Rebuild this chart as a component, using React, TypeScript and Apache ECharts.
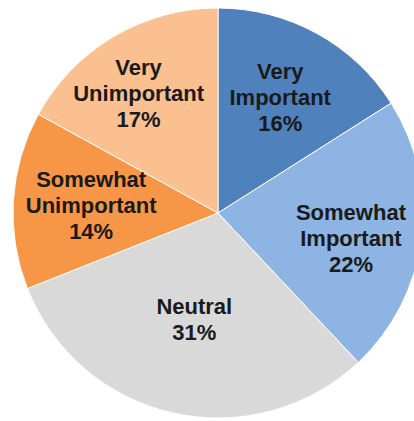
import React, { useEffect, useRef } from "react";
import * as echarts from "echarts";

const categories = [
  "Very Important",
  "Somewhat Important",
  "Neutral",
  "Somewhat Unimportant",
  "Very Unimportant",
];
const values = [16, 22, 31, 14, 17];
const colors = ["#4F81BD", "#8DB4E2", "#D9D9D9", "#F79646", "#FAC090"];

// styling: label distance from centre (fraction of radius) and angle nudge (degrees), per slice
const labelRadius = [0.64, 0.66, 0.53, 0.62, 0.7];
const labelAngleShift = [-0.5, 3.5, 0, 0, -3];

const CX = 218;
const CY = 213;
const R = 205;

export default function App() {
  const ref = useRef<HTMLDivElement>(null);
  useEffect(() => {
    document.body.style.margin = "0";
    if (!ref.current) return;
    const chart = echarts.init(ref.current, null, { renderer: "svg" });
    const total = values.reduce((a, b) => a + b, 0);
    chart.setOption({
      animation: false,
      backgroundColor: "#ffffff",
      series: [
        {
          type: "pie",
          center: [CX, CY],
          radius: [0, R],
          startAngle: 90,
          clockwise: true,
          data: categories.map((name, i) => ({
            name,
            value: values[i],
            itemStyle: { color: colors[i] },
          })),
          itemStyle: { borderColor: "#ffffff", borderWidth: 1 },
          label: {
            show: true,
            position: "inside",
            formatter: (p: any) => `${p.name.replace(" ", "\n")}\n${p.value}%`,
            fontFamily: "Liberation Sans, Arial, sans-serif",
            fontWeight: "bold",
            fontSize: 22,
            lineHeight: 26,
            color: "#1a1a1a",
            align: "center",
            verticalAlign: "middle",
          },
          labelLine: { show: false },
          labelLayout: (params: any) => {
            const i = params.dataIndex;
            let cum = 0;
            for (let k = 0; k < i; k++) cum += values[k];
            const mid =
              ((cum + values[i] / 2) / total) * Math.PI * 2 +
              (labelAngleShift[i] * Math.PI) / 180;
            const d = labelRadius[i] * R;
            return {
              x: CX + d * Math.sin(mid),
              y: CY - d * Math.cos(mid),
              align: "center",
              verticalAlign: "middle",
            };
          },
          emphasis: { disabled: true },
        },
      ],
    });
    return () => chart.dispose();
  }, []);
  return <div ref={ref} style={{ width: 414, height: 421 }} />;
}
